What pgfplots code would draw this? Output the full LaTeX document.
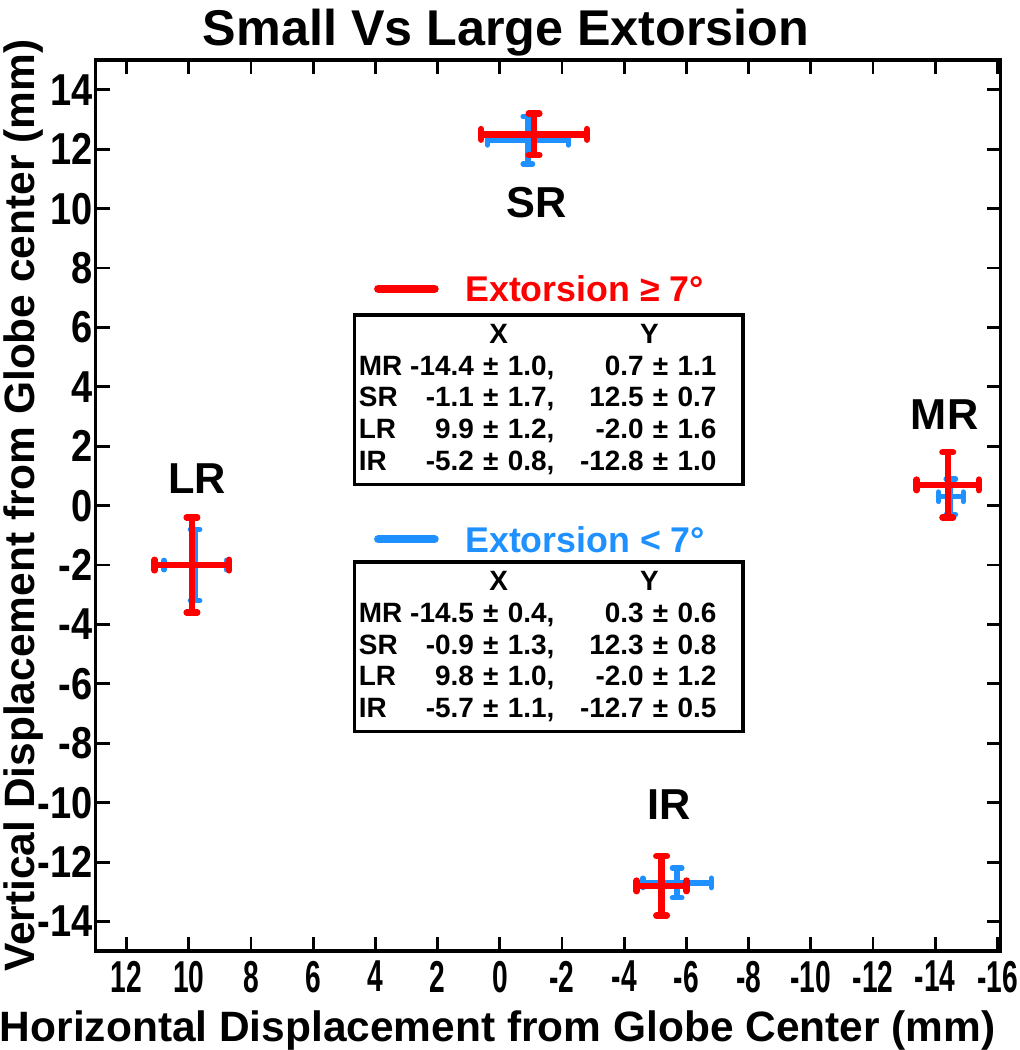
\documentclass[border=0pt]{standalone}
\usepackage{fontspec}
\setmainfont{Liberation Sans}
\usepackage{graphicx}
\usepackage{pgfplots}
\pgfplotsset{compat=1.18}
\definecolor{exred}{RGB}{255,0,0}
\definecolor{exblue}{RGB}{30,144,255}

\pgfplotstableread{
x     y     ex   ey
-14.4 0.7   1.0  1.1
-1.1  12.5  1.7  0.7
9.9   -2.0  1.2  1.6
-5.2  -12.8 0.8  1.0
}\largeext
\pgfplotstableread{
x     y     ex   ey
-14.5 0.3   0.4  0.6
-0.9  12.3  1.3  0.8
9.8   -2.0  1.0  1.2
-5.7  -12.7 1.1  0.5
}\smallext

% one row of the stats box: name, X entry, Y entry
\newcommand{\srow}[3]{\makebox[17pt][l]{#1}\makebox[53pt][r]{#2}\makebox[58pt][r]{#3}\\}
\newcommand{\shead}{\hspace*{50pt}\makebox[0pt]{X}\hspace*{54pt}\makebox[0pt]{Y}\\}

\begin{document}
\begin{tikzpicture}
\begin{axis}[
    scale only axis,
    width=324pt, height=319pt,
    x dir=reverse,
    xmin=-16.1, xmax=13,
    ymin=-15, ymax=15,
    xtick={-16,-14,...,12},
    ytick={-14,-12,...,14},
    tick align=inside,
    major tick length=5pt,
    tick style={black, line width=1pt},
    axis line style={line width=1.3pt},
    /pgf/number format/assume math mode=true,
    xticklabel={\scalebox{0.63}[1]{\pgfmathprintnumber{\tick}}},
    yticklabel={\scalebox{0.85}[1]{\pgfmathprintnumber{\tick}}},
    ticklabel style={font=\bfseries\fontsize{16}{17}\selectfont},
    xticklabel style={yshift=0pt, inner xsep=0.5pt},
    yticklabel style={xshift=2.5pt},
    title={Small Vs Large Extorsion},
    title style={font=\bfseries\fontsize{18}{20}\selectfont, xshift=-15pt, yshift=-8.2pt},
    xlabel={Horizontal Displacement from Globe Center (mm)},
    ylabel={Vertical Displacement from Globe center (mm)},
    label style={font=\bfseries\fontsize{15.2}{17}\selectfont, inner sep=0pt},
    xlabel style={xshift=-18pt, yshift=-2.8pt},
    ylabel style={yshift=-5.5pt},
    clip=false,
]
\addplot[only marks, mark=*, mark size=0pt, mark options={draw=none, fill=none},
    error bars/.cd, x dir=both, x explicit, y dir=both, y explicit,
    error mark options={rotate=90, line width=1.9pt, mark size=1.7pt, line cap=round, exblue},
    error bar style={line width=1.9pt, exblue}]
    table[x=x, y=y, x error=ex, y error=ey] {\smallext};
\addplot[only marks, mark=*, mark size=0pt, mark options={draw=none, fill=none},
    error bars/.cd, x dir=both, x explicit, y dir=both, y explicit,
    error mark options={rotate=90, line width=2.3pt, mark size=1.9pt, line cap=round, exred},
    error bar style={line width=2.3pt, exred}]
    table[x=x, y=y, x error=ex, y error=ey] {\largeext};

\begin{scope}[every node/.style={font=\bfseries\fontsize{15.5}{17}\selectfont}]
\node at (axis cs:-1.17,10.2) {SR};
\node at (axis cs:9.73,0.9) {LR};
\node at (axis cs:-14.3,3.07) {MR};
\node at (axis cs:-5.44,-10.07) {IR};
\end{scope}

\draw[exred, line width=3pt, line cap=round] (axis cs:3.91,7.3) -- (axis cs:2.1,7.3);
\node[anchor=west, inner sep=0pt, text=exred, font=\bfseries\fontsize{12.8}{15}\selectfont] at (axis cs:1.13,7.3) {Extorsion ≥ 7°};
\draw[exblue, line width=3pt, line cap=round] (axis cs:3.91,-1.13) -- (axis cs:2.1,-1.13);
\node[anchor=west, inner sep=0pt, text=exblue, font=\bfseries\fontsize{12.8}{15}\selectfont] at (axis cs:1.13,-1.13) {Extorsion < 7°};

\node[draw, line width=1.2pt, anchor=north west, inner xsep=1.5pt, inner ysep=3.5pt,
      text width=136pt, align=left,
      font=\bfseries\fontsize{10}{11.3}\selectfont] at (axis cs:4.72,6.48)
  {\shead
   \srow{MR}{-14.4 ± 1.0,}{0.7 ± 1.1}
   \srow{SR}{-1.1 ± 1.7,}{12.5 ± 0.7}
   \srow{LR}{9.9 ± 1.2,}{-2.0 ± 1.6}
   \srow{IR}{-5.2 ± 0.8,}{-12.8 ± 1.0}};
\node[draw, line width=1.2pt, anchor=north west, inner xsep=1.5pt, inner ysep=3.5pt,
      text width=136pt, align=left,
      font=\bfseries\fontsize{10}{11.3}\selectfont] at (axis cs:4.72,-1.84)
  {\shead
   \srow{MR}{-14.5 ± 0.4,}{0.3 ± 0.6}
   \srow{SR}{-0.9 ± 1.3,}{12.3 ± 0.8}
   \srow{LR}{9.8 ± 1.0,}{-2.0 ± 1.2}
   \srow{IR}{-5.7 ± 1.1,}{-12.7 ± 0.5}};
\end{axis}
\end{tikzpicture}
\end{document}
